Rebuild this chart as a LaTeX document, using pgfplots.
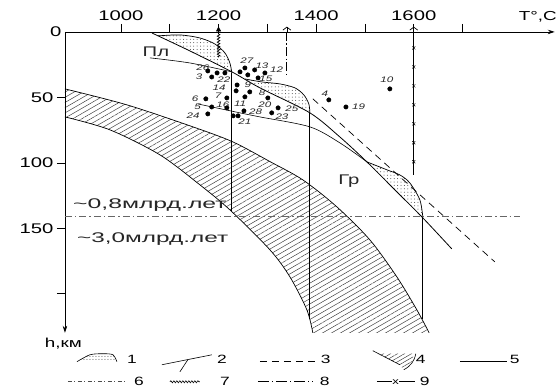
\documentclass[border=0pt]{standalone}
\usepackage{fontspec}
\setmainfont{Liberation Sans}[FakeStretch=1.45]
\usepackage{pgfplots}
\pgfplotsset{compat=1.18}
\usepgfplotslibrary{fillbetween}
\usetikzlibrary{patterns.meta,arrows.meta,decorations.pathmorphing}
\begin{document}
\begin{tikzpicture}
\begin{axis}[
 scale only axis, width=490pt, height=301pt,
 xmin=885.3, xmax=1888.8, ymin=0, ymax=229.8,
 y dir=reverse,
 axis line style={draw=none},
 clip=false,
 xtick pos=upper, xticklabel pos=upper,
 ytick pos=left, yticklabel pos=left,
 xtick={1000,1200,1400,1600}, minor xtick={1100,1300,1500,1700},
 ytick={50,100,150,200}, yticklabels={50,100,150,{}},
 extra y ticks={0}, extra y tick style={major tick length=0pt},
 tick align=outside, major tick length=8pt, minor tick length=8pt,
 every tick/.style={black, line width=0.7pt},
 tick label style={font=\fontsize{14}{14}\selectfont},
 /pgf/number format/assume math mode=true,
 /pgf/number format/1000 sep={},
]
% ---- axis lines
\draw[black, line width=0.8pt, -{Stealth[length=7pt,width=4.5pt]}] (axis cs:885.3,0) -- (axis cs:1888.8,0);
\draw[black, line width=0.8pt, -{Stealth[length=7pt,width=4.5pt]}] (axis cs:885.3,0) -- (axis cs:885.3,229.8);
% ---- hatched band (4)
\addplot[name path=bup, smooth, black, line width=0.7pt] coordinates {
 (885.3,43.5) (1012.3,55.7) (1147.5,72.5) (1229.4,84.0) (1305.2,99.0) (1372.7,113.0)
 (1442.4,133.6) (1510,158.8) (1565.2,187.0) (1606.2,212.2) (1631.5,229.8)};
\addplot[name path=blo, smooth, black, line width=0.7pt] coordinates {
 (885.3,64.9) (977.5,74.8) (1079.9,93.9) (1161.8,116.8) (1223.2,135.9) (1305.2,166.4)
 (1346.1,187.0) (1380.9,212.2) (1393.2,229.8)};
\addplot[draw=none, pattern={Lines[angle=30,distance=4.5pt,line width=0.5pt]}, pattern color=black!75] fill between[of=bup and blo];

% ---- dotted lenses (1)
\addplot[name path=arc1, smooth, black, line width=0.7pt] coordinates {
 (1075.8,3.0) (1120.8,2.3) (1161.8,4.6) (1192.5,9.2) (1213,16) (1223.2,23.7) (1227.3,31.3)};
\addplot[name path=dg1, draw=none] coordinates {(1075.8,3.0) (1227.3,31.3)};
\addplot[draw=none, pattern={Dots[distance=3.4pt,radius=0.5pt]}, pattern color=black!75] fill between[of=arc1 and dg1];

\addplot[name path=arc2, smooth, black, line width=0.7pt] coordinates {
 (1253.9,35.9) (1288.8,38.2) (1325.6,39.7) (1356.4,42.7) (1374.8,48.1) (1385,55.0) (1387.1,61.8)};
\addplot[name path=dg2, draw=none] coordinates {(1253.9,35.9) (1284.7,42.7) (1387.1,61.8)};
\addplot[draw=none, pattern={Dots[distance=3.4pt,radius=0.5pt]}, pattern color=black!75] fill between[of=arc2 and dg2];

\addplot[name path=arc3, smooth, black, line width=0.7pt] coordinates {
 (1503.8,99.2) (1544.8,105.3) (1571.4,109.2) (1591.9,115.3) (1612.4,128.2) (1618.5,141.2)};
\addplot[name path=dg3, draw=none] coordinates {(1503.8,99.2) (1561.2,120.6) (1618.5,141.2)};
\addplot[draw=none, pattern={Dots[distance=3.4pt,radius=0.5pt]}, pattern color=black!75] fill between[of=arc3 and dg3];

% ---- diagonal solid line (5)
\addplot[smooth, black, line width=0.8pt] coordinates {
 (1063.5,0.8) (1141.3,14.5) (1227.3,30.5) (1284.7,42.7) (1387.1,61.8) (1448.5,80.2)
 (1503.8,99.2) (1561.2,120.6) (1618.5,142.0) (1677.9,165.7)};
% ---- phase boundaries (2)
\addplot[smooth, black, line width=0.6pt] coordinates {(1059.4,19.8) (1141.3,23.7) (1227.3,30.5)};
\addplot[smooth, black, line width=0.6pt] coordinates {
 (1157.7,55.0) (1243.7,61.8) (1284.7,64.9) (1387.1,72.5) (1448.5,84.7) (1503.8,99.2)};
% ---- vertical adiabats
\addplot[black, line width=0.9pt] coordinates {(1227.3,31.3) (1227.3,136.5)};
\addplot[black, line width=0.9pt] coordinates {(1387.1,61.8) (1387.1,219.5)};
\addplot[black, line width=0.9pt] coordinates {(1618.5,141.2) (1618.5,219.5)};
% ---- dashed line (3)
\addplot[black, line width=0.7pt, dash pattern=on 7pt off 5pt] coordinates {(1393.2,51.1) (1766,175.6)};
% ---- dash-dot horizontal (6)
\addplot[black!60, line width=0.7pt, dash pattern=on 7pt off 3pt on 1.5pt off 3pt] coordinates {(885.3,140.9) (1817,140.9)};
% ---- top verticals
\draw[black, line width=0.7pt, decorate, decoration={zigzag, amplitude=1.3pt, segment length=3pt}] (axis cs:1200,1.5) -- (axis cs:1200,19.5);
\draw[black, line width=0.7pt, -{Triangle[length=5pt,width=5pt]}] (axis cs:1200,1.5) -- (axis cs:1200,-4.2);
\addplot[black, line width=0.8pt, dash pattern=on 9pt off 2.5pt on 1.2pt off 2.5pt] coordinates {(1340,0) (1340,33)};
\draw[black, line width=0.7pt, -{Straight Barb[length=3pt,width=8pt]}] (axis cs:1340,0.5) -- (axis cs:1340,-4);
\addplot[black, line width=0.8pt] coordinates {(1600,0) (1600,109)};
\addplot[only marks, mark=x, mark size=2.2pt, black, mark options={line width=0.5pt}] coordinates {
 (1600,12.2) (1600,26.7) (1600,41.2) (1600,55.7) (1600,70.2) (1600,84.7) (1600,99.2)};
\draw[black, line width=0.7pt, -{Straight Barb[length=3pt,width=8pt]}] (axis cs:1600,0.5) -- (axis cs:1600,-4);

% ---- data points
\addplot[only marks, mark=*, mark size=2.2pt, black] coordinates {
 (1254,27.5) (1274,29.0) (1295,31.3) (1281,35.1) (1178,29.8) (1197,31.3) (1213,31.3) (1186,34.4)
 (1244,30.5) (1260,32.8) (1238,40.5) (1236,45.0) (1264,45.8) (1174,51.1) (1217,50.4) (1186,57.3)
 (1217,58.0) (1254,49.6) (1301,50.4) (1322,58.0) (1178,62.6) (1252,60.3) (1309,61.8) (1240,64.1)
 (1230,64.1) (1551,43.5) (1426,51.9) (1461,57.3)};
\begin{scope}[every node/.style={font=\itshape\fontsize{8}{8}\selectfont, inner sep=0pt, text=black!85}]
\node at (axis cs:1258,22.1) {27};
\node at (axis cs:1289,26.0) {13};
\node at (axis cs:1319,29.0) {12};
\node at (axis cs:1297,35.9) {15};
\node at (axis cs:1168,27.5) {26};
\node at (axis cs:1160,34.4) {3};
\node at (axis cs:1211,36.6) {22};
\node at (axis cs:1260,40.5) {9};
\node at (axis cs:1201,42.7) {14};
\node at (axis cs:1289,46.6) {8};
\node at (axis cs:1152,51.1) {6};
\node at (axis cs:1199,48.8) {7};
\node at (axis cs:1157,57.2) {5};
\node at (axis cs:1209,55.8) {16};
\node at (axis cs:1244,55.0) {11};
\node at (axis cs:1295,55.7) {20};
\node at (axis cs:1350,58.8) {25};
\node at (axis cs:1148,64.2) {24};
\node at (axis cs:1276,61.1) {28};
\node at (axis cs:1330,64.9) {23};
\node at (axis cs:1254,68.7) {21};
\node at (axis cs:1545,36.6) {10};
\node at (axis cs:1418,47.3) {4};
\node at (axis cs:1487,57.3) {19};
\end{scope}

% ---- text labels
\begin{scope}[every node/.style={font=\fontsize{14}{14}\selectfont, text=black!85}]
\node at (axis cs:1071.7,15.3) {Пл};
\node at (axis cs:1467,113.7) {Гр};
\node[anchor=west, inner sep=0pt] at (axis cs:901.7,132.1) {\scalebox{1.22}[1]{\textasciitilde 0,8млрд.лет}};
\node[anchor=west, inner sep=0pt] at (axis cs:909.9,158.0) {\scalebox{1.2}[1]{\textasciitilde 3,0млрд.лет}};
\end{scope}
\node[font=\fontsize{13}{13}\selectfont] at (axis cs:882,238.2) {h,км};
\node[font=\fontsize{13}{13}\selectfont] at (axis cs:1854,-11.5) {T°,C};

% ---- legend
\begin{scope}[every node/.style={font=\fontsize{12}{12}\selectfont}]
% 1
\addplot[name path=l1a, smooth, black, line width=0.6pt] coordinates {(909.9,251.9) (936.5,246.6) (963.1,245.8) (983.6,246.6) (991.8,251.9)};
\addplot[name path=l1b, draw=none] coordinates {(909.9,251.9) (991.8,251.9)};
\addplot[draw=none, pattern={Dots[distance=3pt,radius=0.5pt]}, pattern color=black!80] fill between[of=l1a and l1b];
\node at (axis cs:1022.5,250.4) {1};
% 2
\draw[black, line width=0.6pt] (axis cs:1084,254.2) -- (axis cs:1186.4,246.6);
\draw[black, line width=0.6pt] (axis cs:1137.2,250.3) -- (axis cs:1120.8,259.6);
\node at (axis cs:1206.8,250.4) {2};
% 3
\draw[black, line width=0.6pt, dash pattern=on 7pt off 5pt] (axis cs:1284.7,251.9) -- (axis cs:1397.3,251.9);
\node at (axis cs:1419.8,250.4) {3};
% 4
\fill[pattern={Lines[angle=30,distance=3.5pt,line width=0.5pt]}, pattern color=black!75]
 (axis cs:1526.3,245.8) -- (axis cs:1600.1,245.8) -- (axis cs:1596,251.9) -- (axis cs:1579.6,258.0) -- (axis cs:1571.4,254.2) -- cycle;
\draw[black, line width=0.6pt] (axis cs:1516.1,243.5) -- (axis cs:1571.4,254.2);
\draw[black, line width=0.6pt] (axis cs:1604.2,245.8) to[bend left=25] (axis cs:1579.6,258.0);
\node at (axis cs:1614,250.4) {4};
% 5
\draw[black, line width=0.6pt] (axis cs:1694.3,251.9) -- (axis cs:1790.5,251.9);
\node at (axis cs:1807,250.4) {5};
% 6
\draw[black!70, line width=0.6pt, dash pattern=on 4pt off 2.5pt on 1pt off 2.5pt] (axis cs:891.5,267.2) -- (axis cs:1014.3,267.2);
\node at (axis cs:1036.9,267.2) {6};
% 7
\draw[black, line width=0.6pt, decorate, decoration={snake, amplitude=1pt, segment length=3pt}] (axis cs:1100.4,267.2) -- (axis cs:1161.8,267.2);
\node at (axis cs:1213,267.2) {7};
% 8
\draw[black, line width=0.6pt, dash pattern=on 11pt off 3pt on 1.2pt off 3pt] (axis cs:1280.6,267.2) -- (axis cs:1393.2,267.2);
\node at (axis cs:1417.7,267.2) {8};
% 9
\draw[black, line width=0.6pt] (axis cs:1524.3,267.2) -- (axis cs:1602.1,267.2);
\node[font=\fontsize{9}{9}\selectfont, fill=white, inner sep=0.5pt] at (axis cs:1563,267.2) {x};
\node at (axis cs:1622.6,267.2) {9};
\end{scope}

\path (axis cs:752.2,-24.4) rectangle (axis cs:1899.1,272.5);
\end{axis}
\end{tikzpicture}
\end{document}
